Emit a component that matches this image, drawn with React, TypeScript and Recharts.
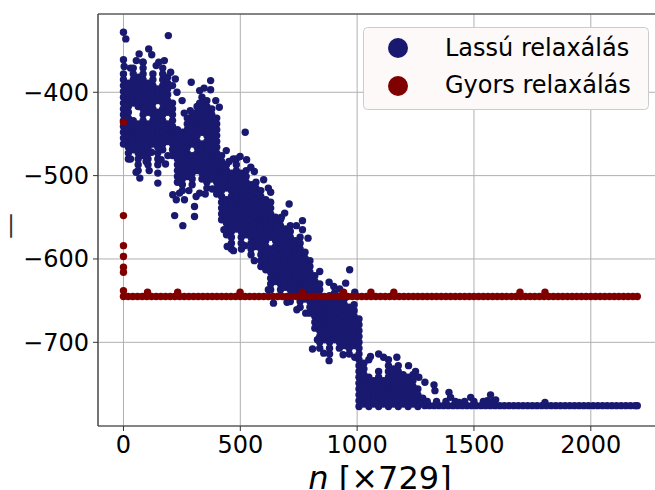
import React from 'react';
import {
  ScatterChart,
  Scatter,
  XAxis,
  YAxis,
  CartesianGrid,
  ReferenceLine,
  Legend,
} from 'recharts';

const FONT = '"DejaVu Sans", Verdana, sans-serif';
const SLOW_COLOR = '#191970';
const FAST_COLOR = '#800000';

const xTicks = [0, 500, 1000, 1500, 2000];
const yTicks = [-700, -600, -500, -400];

// slow relaxation cloud, read column by column: [n, [energies]]
const slowLobeA: [number, number[]][] = [
  [0, [-378, -385, -392, -399, -406, -413, -420, -427, -434, -441, -448, -455, -462]],
  [21, [-389, -396, -403, -410, -417, -424, -431, -438, -445, -452, -459, -466, -473, -480]],
  [42, [-371, -378, -385, -392, -399, -406, -413, -434, -441, -448, -455, -462, -469]],
  [63, [-382, -389, -396, -403, -410, -417, -438, -445, -452, -459, -466, -473, -480, -487, -494]],
  [84, [-364, -371, -378, -385, -392, -399, -406, -413, -420, -427, -434, -441, -448, -455, -462, -469, -476]],
  [105, [-389, -396, -403, -410, -417, -424, -438, -445, -452, -459, -466, -473, -480, -487]],
  [126, [-378, -385, -392, -399, -406, -413, -420, -427, -434, -441, -448, -455, -462]],
  [147, [-396, -403, -410, -424, -431, -438, -445, -452, -459, -466, -473, -480]],
  [168, [-371, -378, -385, -392, -399, -406, -413, -420, -427, -434, -441, -448, -455, -462, -469]],
  [189, [-382, -389, -396, -403, -410, -417, -424, -438, -445, -452, -459]],
  [210, [-413, -420, -427, -434, -441, -448, -455, -462, -469, -476]],
  [231, [-445, -452, -459, -466, -473, -480, -487, -494, -501, -508]],
];

const slowLobeB: [number, number[]][] = [
  [252, [-448, -455, -462, -469, -476, -483, -490, -497, -504, -511, -518]],
  [273, [-431, -438, -445, -452, -459, -466, -473, -480, -487, -494, -501]],
  [294, [-427, -434, -441, -448, -455, -462, -476, -483, -490, -497, -504, -511]],
  [315, [-417, -424, -431, -438, -445, -452, -459, -466, -473, -480, -487, -494]],
  [336, [-406, -413, -420, -427, -434, -441, -448, -462, -469, -476, -483, -490, -497, -504]],
  [357, [-410, -417, -424, -431, -438, -445, -452, -459, -466, -473, -480, -487, -494, -501, -508, -515]],
  [378, [-420, -427, -434, -441, -448, -455, -462, -469, -476, -483, -490, -497, -504]],
  [399, [-431, -438, -445, -452, -459, -466, -473, -480, -487, -494, -501, -508, -515, -522]],
];

const slowLobeC: [number, number[]][] = [
  [420, [-476, -483, -490, -497, -504, -511, -518, -525, -532, -539, -546, -553]],
  [441, [-487, -494, -501, -508, -515, -529, -536, -543, -550, -557, -564, -571]],
  [462, [-497, -504, -511, -518, -525, -532, -539, -546, -553, -560, -567, -574, -581, -588]],
  [483, [-480, -487, -494, -501, -508, -515, -522, -529, -536, -543, -550, -557, -564]],
  [504, [-497, -504, -511, -518, -525, -532, -539, -546, -553, -560, -567, -574, -581]],
  [525, [-494, -501, -508, -515, -522, -529, -536, -543, -550, -557, -564, -571]],
  [546, [-511, -518, -525, -532, -539, -546, -553, -560, -567, -574, -581, -588, -595]],
  [567, [-508, -515, -522, -529, -536, -543, -550, -557, -564, -571, -578, -585]],
  [588, [-518, -525, -532, -539, -546, -553, -560, -567, -574, -581, -588, -595, -602, -609]],
];

const slowLobeD: [number, number[]][] = [
  [609, [-529, -536, -543, -550, -557, -564, -571, -578, -585, -592, -599, -606, -613]],
  [630, [-532, -539, -546, -553, -560, -567, -574, -588, -595, -602, -609, -616, -623, -630, -637]],
  [651, [-550, -557, -564, -571, -578, -585, -592, -599, -606, -613, -620, -627]],
  [672, [-553, -560, -567, -574, -581, -588, -595, -602, -609, -616, -623, -630, -637, -644]],
  [693, [-564, -571, -578, -585, -592, -599, -606, -613, -620, -627, -634]],
  [714, [-560, -567, -574, -581, -588, -595, -602, -609, -616, -623, -630, -637, -644, -651]],
  [735, [-578, -585, -592, -599, -606, -613, -620, -627, -634, -641]],
  [756, [-574, -581, -588, -595, -602, -609, -616, -623, -630, -637, -644, -651, -658]],
  [777, [-592, -599, -606, -613, -620, -627, -634, -641, -648]],
  [798, [-602, -609, -616, -623, -630, -637, -644, -651, -658, -665]],
];

const slowLobeE: [number, number[]][] = [
  [819, [-620, -627, -634, -641, -648, -655, -662, -669, -676, -683]],
  [840, [-630, -637, -644, -651, -658, -665, -672, -679, -686, -693, -700, -707]],
  [861, [-648, -655, -662, -669, -676, -683, -690, -697]],
  [882, [-644, -651, -658, -665, -672, -679, -686, -693, -700, -707, -714]],
  [903, [-641, -648, -655, -662, -669, -676, -683, -690, -697]],
  [924, [-651, -658, -665, -672, -679, -686, -693, -700, -707]],
  [945, [-648, -655, -662, -669, -676, -683, -690, -697, -704]],
  [966, [-658, -665, -672, -679, -686, -693, -700, -707, -714]],
  [987, [-655, -662, -669, -676, -683, -690, -697, -704]],
  [1008, [-672, -679, -686, -693, -700, -707, -714, -721, -728, -735, -742, -749, -756, -763, -770, -777]],
];

const slowLobeF: [number, number[]][] = [
  [1029, [-725, -732, -739, -746, -753, -760, -767, -774]],
  [1050, [-721, -742, -749, -756, -763, -770, -777]],
  [1071, [-746, -753, -760, -767, -774]],
  [1092, [-714, -735, -742, -749, -756, -763, -770, -777]],
  [1113, [-718, -746, -753, -760, -767, -774]],
  [1134, [-721, -728, -735, -742, -749, -756, -763, -770, -777]],
  [1155, [-732, -739, -746, -753, -760, -767, -774]],
  [1176, [-728, -735, -742, -749, -756, -763, -770, -777]],
  [1197, [-739, -746, -753, -760, -767, -774]],
  [1218, [-742, -749, -756, -763, -770, -777]],
  [1239, [-739, -746, -753, -760, -767, -774]],
  [1260, [-756, -763, -770, -777]],
  [1281, [-767, -774]],
];

// converged tail, read row by row: [energy, [n values]]
const slowTail: [number, number[]][] = [
  [-776, [1290, 1310, 1330, 1350, 1370, 1390, 1410, 1430, 1450, 1470, 1490, 1510, 1530, 1550, 1570, 1590,
    1610, 1630, 1650, 1670, 1690, 1710, 1730, 1750, 1770, 1790, 1810, 1830, 1850, 1870, 1890, 1910,
    1930, 1950, 1970, 1990, 2010, 2030, 2050, 2070, 2090, 2110, 2130, 2150, 2170, 2190, 2199]],
  [-771, [1300, 1340, 1380, 1420, 1460, 1500, 1540, 1580]],
];

// scattered points around the edges of the cloud
const slowOutliers: [number, number][] = [
  [0, -328], [10, -336], [0, -361], [3, -369], [67, -354], [108, -348], [121, -355], [151, -364],
  [192, -332], [83, -364], [229, -400], [251, -410], [286, -422], [290, -388], [326, -398],
  [373, -386], [373, -397], [326, -413], [210, -392], [202, -376], [222, -384],
  [30, -371], [55, -362], [140, -368], [175, -362], [70, -503], [110, -494], [180, -486],
  [54, -496], [97, -483], [147, -487], [147, -497], [147, -509], [161, -481], [211, -523],
  [219, -548], [254, -560], [304, -549], [326, -521], [261, -529], [240, -521], [226, -529],
  [304, -537], [311, -525], [190, -476], [120, -472], [30, -480],
  [260, -425], [345, -395], [395, -410], [410, -418], [280, -518], [350, -522], [380, -516],
  [521, -448], [499, -477], [527, -481], [452, -483], [444, -585], [471, -590], [505, -588],
  [440, -470], [470, -480], [560, -495], [545, -490], [430, -565], [520, -584], [560, -602],
  [709, -534], [676, -550], [766, -554], [766, -565], [600, -505], [620, -515],
  [630, -520], [690, -545], [740, -560], [790, -575], [620, -637], [700, -652], [780, -665],
  [642, -653], [742, -661], [809, -708], [857, -713], [968, -613], [951, -629], [925, -636],
  [900, -633], [830, -697], [840, -615], [880, -628], [990, -640],
  [880, -722], [940, -715], [990, -718], [1057, -717], [1170, -718], [1220, -728], [1290, -748],
  [1250, -735], [1264, -742], [1329, -751], [1333, -758], [1393, -760], [1400, -766], [1486, -766],
  [1571, -763], [1593, -769], [1436, -772], [1557, -770], [1804, -772],
];

// fast relaxation
const fastStart: [number, number][] = [
  [0, -436], [0, -548], [0, -584], [0, -597], [0, -610], [0, -616], [0, -638],
];

const fastBand: [number, number[]][] = [
  [-645, [0, 20, 40, 60, 80, 100, 120, 140, 160, 180, 200, 220, 240, 260, 280, 300, 320, 340, 360, 380,
    400, 420, 440, 460, 480, 500, 520, 540, 560, 580, 600, 620, 640, 660, 680, 700, 720, 740, 760, 780,
    800, 820, 840, 860, 880, 900, 920, 940, 960, 980, 1000, 1020, 1040, 1060, 1080, 1100, 1120, 1140,
    1160, 1180, 1200, 1220, 1240, 1260, 1280, 1300, 1320, 1340, 1360, 1380, 1400, 1420, 1440, 1460,
    1480, 1500, 1520, 1540, 1560, 1580, 1600, 1620, 1640, 1660, 1680, 1700, 1720, 1740, 1760, 1780,
    1800, 1820, 1840, 1860, 1880, 1900, 1920, 1940, 1960, 1980, 2000, 2020, 2040, 2060, 2080, 2100,
    2120, 2140, 2160, 2180, 2199]],
  [-640, [103, 232, 499, 766, 942, 1059, 1157, 1697, 1804]],
];

const fromColumns = (cols: [number, number[]][]) =>
  cols.flatMap(([x, ys]) => ys.map((y) => ({ x, y })));
const fromRows = (rows: [number, number[]][]) =>
  rows.flatMap(([y, xs]) => xs.map((x) => ({ x, y })));
const fromPairs = (pairs: [number, number][]) => pairs.map(([x, y]) => ({ x, y }));

const slowData = [
  ...fromColumns(slowLobeA),
  ...fromColumns(slowLobeB),
  ...fromColumns(slowLobeC),
  ...fromColumns(slowLobeD),
  ...fromColumns(slowLobeE),
  ...fromColumns(slowLobeF),
  ...fromRows(slowTail),
  ...fromPairs(slowOutliers),
];

const fastData = [...fromRows(fastBand), ...fromPairs(fastStart)];

const minus = (v: number) => (v < 0 ? '\u2212' + Math.abs(v) : String(v));

const dot = (color: string) => (props: any) =>
  <circle cx={props.cx} cy={props.cy} r={3.7} fill={color} />;

const LegendBox = () => (
  <svg width={287} height={84} style={{ display: 'block' }}>
    <rect x={0.5} y={0.5} width={285} height={82} rx={4} fill="#fdf9f9" stroke="#cccccc" />
    <circle cx={35} cy={21} r={10} fill={SLOW_COLOR} />
    <text x={82} y={29} fontSize={24} fontFamily={FONT} fill="#000">Lassú relaxálás</text>
    <circle cx={35} cy={59} r={10} fill={FAST_COLOR} />
    <text x={82} y={66} fontSize={24} fontFamily={FONT} fill="#000">Gyors relaxálás</text>
  </svg>
);

export default function App() {
  const tickStyle = { fontSize: 24, fill: '#000', fontFamily: FONT };

  return (
    <div style={{ position: 'absolute', left: 0, top: 0, width: 655, height: 490, overflow: 'hidden', background: '#fff' }}>
      <ScatterChart width={700} height={490} margin={{ top: 14, right: 37, bottom: 0, left: 0 }}>
        <CartesianGrid stroke="#b0b0b0" strokeWidth={1} />
        <XAxis
          type="number"
          dataKey="x"
          domain={[-109, 2309]}
          ticks={xTicks}
          allowDataOverflow
          height={64}
          tick={tickStyle}
          tickSize={5}
          tickMargin={5}
          tickLine={{ stroke: '#333' }}
          axisLine={{ stroke: '#333', strokeWidth: 1.2 }}
          label={() => (
            <text x={380} y={489} textAnchor="middle" fontSize={32} fontFamily={FONT} fill="#000">
              <tspan fontStyle="italic">n</tspan> [×729]
            </text>
          )}
        />
        <YAxis
          type="number"
          dataKey="y"
          domain={[-800.4, -306.1]}
          ticks={yTicks}
          allowDataOverflow
          width={98}
          tick={tickStyle}
          tickSize={5}
          tickMargin={4}
          tickFormatter={minus}
          tickLine={{ stroke: '#333' }}
          axisLine={{ stroke: '#333', strokeWidth: 1.2 }}
          label={() => (
            <text
              x={9}
              y={226}
              textAnchor="middle"
              dominantBaseline="central"
              fontSize={26}
              fontFamily={FONT}
              fill="#333"
              transform="rotate(-90 9 226)"
            >
              —
            </text>
          )}
        />
        <ReferenceLine y={-306.1} stroke="#333" strokeWidth={1.2} ifOverflow="visible" />
        <Legend
          layout="vertical"
          align="center"
          verticalAlign="middle"
          content={() => <LegendBox />}
          wrapperStyle={{ position: 'absolute', left: 363, top: 27, width: 287, height: 84 }}
        />
        <Scatter
          name="Lassú relaxálás"
          data={slowData}
          fill={SLOW_COLOR}
          shape={dot(SLOW_COLOR)}
          isAnimationActive={false}
        />
        <Scatter
          name="Gyors relaxálás"
          data={fastData}
          fill={FAST_COLOR}
          shape={dot(FAST_COLOR)}
          isAnimationActive={false}
        />
      </ScatterChart>
    </div>
  );
}
